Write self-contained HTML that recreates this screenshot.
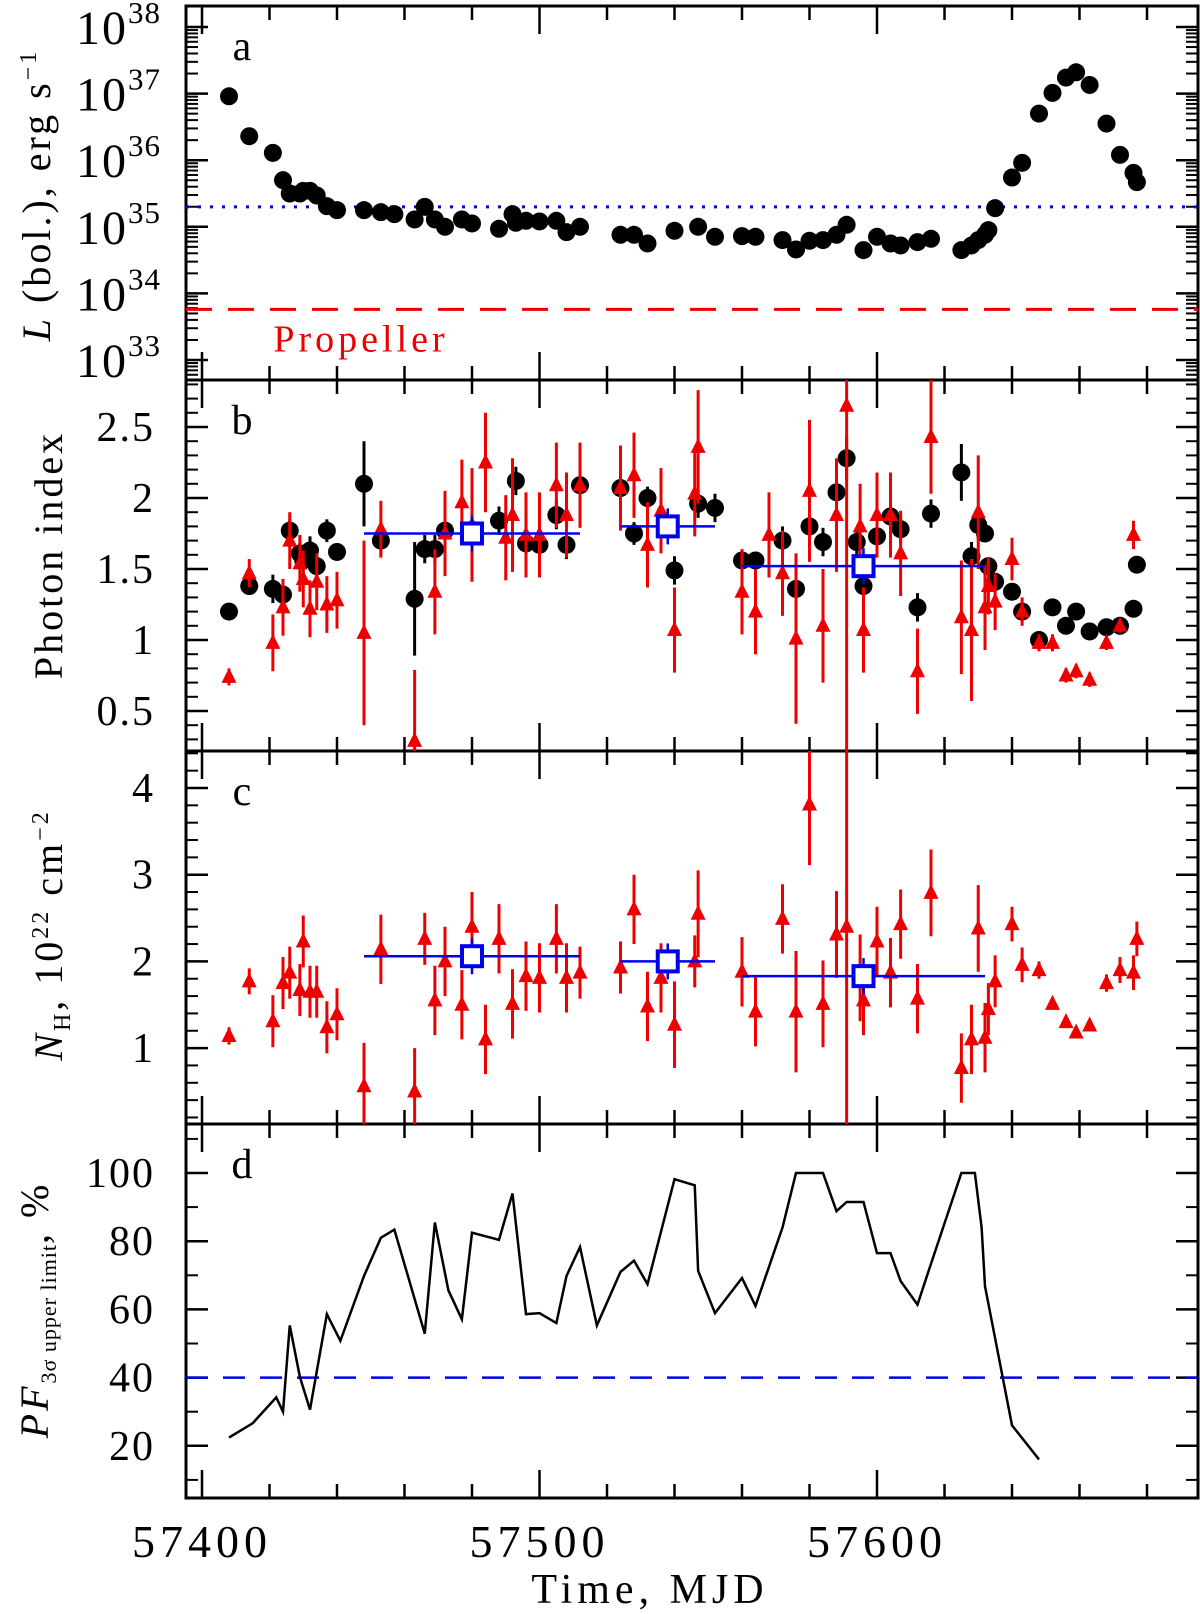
<!DOCTYPE html>
<html><head><meta charset="utf-8"><style>
html,body{margin:0;padding:0;background:#fff}
svg{display:block}
text{font-family:"Liberation Serif",serif;fill:#000}
</style></head><body>
<svg id="chart" width="1200" height="1614" viewBox="0 0 1200 1614" xmlns="http://www.w3.org/2000/svg"></svg>
<script>
// ---- data ----
const lumT=[57408,57414,57421,57424,57426,57429,57430,57432,57434,57437,57440,57448,57453,57457,57463,57466,57469,57472,57477,57480,57488,57492,57493,57496,57500,57505,57508,57512,57524,57528,57532,57540,57547,57552,57560,57564,57572,57576,57580,57584,57588,57591,57596,57600,57604,57607,57612,57616,57625,57628,57630,57632,57633,57635,57640,57643,57648,57652,57656,57659,57663,57668,57672,57676,57677];
const lumLog=[36.96,36.36,36.11,35.70,35.50,35.50,35.54,35.54,35.47,35.31,35.25,35.25,35.22,35.19,35.11,35.30,35.11,35.0,35.11,35.05,34.97,35.19,35.06,35.09,35.08,35.09,34.92,35.0,34.88,34.88,34.75,34.94,35.0,34.85,34.86,34.85,34.80,34.66,34.79,34.80,34.88,35.03,34.65,34.85,34.75,34.72,34.77,34.82,34.65,34.72,34.80,34.88,34.95,35.28,35.74,35.96,36.70,37.01,37.24,37.32,37.13,36.55,36.08,35.81,35.67];
const idxBT=[57408,57414,57421,57424,57426,57429,57430,57432,57434,57437,57440,57448,57453,57463,57466,57469,57472,57480,57488,57493,57496,57500,57505,57508,57512,57524,57528,57532,57540,57547,57552,57560,57564,57572,57576,57580,57584,57588,57591,57594,57596,57600,57604,57607,57612,57616,57625,57628,57630,57632,57633,57635,57640,57643,57648,57652,57656,57659,57663,57668,57672,57676,57677];
const idxBV=[1.20,1.38,1.36,1.32,1.77,1.61,1.56,1.63,1.52,1.77,1.62,2.10,1.70,1.29,1.64,1.64,1.77,1.73,1.84,2.12,1.68,1.67,1.88,1.67,2.09,2.07,1.75,2.0,1.49,1.96,1.93,1.56,1.56,1.70,1.36,1.80,1.69,2.04,2.28,1.69,1.38,1.73,1.87,1.78,1.23,1.89,2.18,1.59,1.81,1.75,1.52,1.41,1.34,1.20,1.00,1.23,1.10,1.20,1.06,1.09,1.10,1.22,1.53];
const idxBE=[0.05,0.05,0.1,0.1,0.08,0.08,0.1,0.1,0.08,0.08,0.06,0.3,0.1,0.4,0.1,0.1,0.1,0.1,0.1,0.1,0.1,0.1,0.1,0.1,0.08,0.08,0.08,0.08,0.1,0.1,0.1,0.06,0.06,0.1,0.1,0.1,0.1,0.1,0.15,0.1,0.1,0.1,0.1,0.1,0.1,0.1,0.2,0.1,0.1,0.06,0.06,0.06,0.05,0.05,0.05,0.05,0.05,0.05,0.05,0.05,0.05,0.05,0.05];
const idxRT=[57408,57414,57421,57424,57426,57429,57430,57432,57434,57437,57440,57448,57453,57463,57469,57472,57477,57480,57484,57490,57492,57496,57500,57505,57508,57512,57524,57528,57532,57536,57540,57546,57547,57560,57564,57568,57572,57576,57580,57584,57588,57591,57595,57596,57600,57604,57607,57612,57616,57625,57628,57630,57632,57633,57635,57640,57643,57648,57652,57656,57659,57663,57668,57672,57676];
const idxRV=[0.74,1.47,0.98,1.23,1.70,1.54,1.43,1.22,1.41,1.25,1.28,1.05,1.78,0.29,1.34,1.75,1.97,1.81,2.25,1.72,1.88,1.74,1.74,2.09,1.88,2.09,2.07,2.16,1.67,1.91,1.07,2.03,2.36,1.34,1.20,1.74,1.47,1.01,2.05,1.10,1.88,2.65,1.80,1.07,1.88,1.88,1.61,0.78,2.43,1.16,1.07,1.90,1.23,1.38,1.27,1.57,1.20,0.98,0.98,0.75,0.78,0.72,0.98,1.10,1.74];
const idxRE=[0.06,0.1,0.2,0.2,0.2,0.2,0.2,0.2,0.2,0.2,0.2,0.65,0.2,0.5,0.3,0.3,0.3,0.4,0.35,0.3,0.4,0.3,0.3,0.3,0.3,0.3,0.3,0.3,0.3,0.3,0.3,0.3,0.4,0.3,0.3,0.3,0.3,0.6,0.5,0.4,0.4,2.6,0.3,0.3,0.3,0.3,0.3,0.3,0.4,0.4,0.5,0.4,0.3,0.2,0.2,0.15,0.1,0.06,0.06,0.05,0.05,0.05,0.05,0.05,0.1];
const nhT=[57408,57414,57421,57424,57426,57429,57430,57432,57434,57437,57440,57448,57453,57463,57466,57469,57472,57477,57480,57484,57488,57492,57496,57500,57505,57508,57512,57524,57528,57532,57536,57540,57546,57547,57560,57564,57572,57576,57580,57584,57588,57591,57595,57596,57600,57604,57607,57612,57616,57625,57628,57630,57632,57633,57635,57640,57643,57648,57652,57656,57659,57663,57668,57672,57676,57677];
const nhV=[1.14,1.77,1.31,1.75,1.87,1.67,2.23,1.65,1.65,1.24,1.39,0.56,2.14,0.5,2.26,1.55,2.0,1.5,2.4,1.1,2.26,1.51,1.83,1.81,2.26,1.81,1.87,1.93,2.6,1.48,1.81,1.27,2.0,2.55,1.88,1.42,2.49,1.42,3.81,1.51,2.31,2.4,1.81,1.55,2.23,1.87,2.43,1.57,2.79,0.77,1.1,2.38,1.12,1.45,1.77,2.43,1.96,1.90,1.51,1.30,1.18,1.26,1.75,1.90,1.87,2.26];
const nhE=[0.1,0.15,0.3,0.3,0.3,0.3,0.3,0.3,0.3,0.3,0.3,0.5,0.4,0.5,0.3,0.4,0.4,0.4,0.4,0.4,0.4,0.4,0.4,0.4,0.4,0.4,0.3,0.3,0.4,0.4,0.4,0.5,0.3,0.5,0.4,0.4,0.4,0.7,0.7,0.5,0.5,2.5,0.5,0.4,0.4,0.4,0.4,0.4,0.5,0.4,0.4,0.5,0.4,0.3,0.3,0.2,0.2,0.1,0.06,0.05,0.05,0.05,0.1,0.15,0.2,0.2];
const avgT=[57480,57538,57596];
const avgLo=[57448,57524,57560];
const avgHi=[57512,57552,57632];
const avgIdx=[1.75,1.80,1.52];
const avgNh=[2.06,2.0,1.83];
const pfT=[57408,57415,57422,57424,57426,57429,57432,57437,57441,57448,57453,57457,57466,57469,57473,57477,57480,57488,57492,57496,57500,57505,57508,57512,57517,57524,57528,57532,57540,57546,57547,57552,57560,57564,57572,57576,57584,57588,57591,57596,57600,57604,57607,57612,57616,57625,57629,57631,57632,57640,57648];
const pfV=[22.4,26.6,34.2,30,55.3,40.2,30.6,58.6,50.8,69.8,81,83.4,52.9,85.5,65.6,57.1,82.5,80.4,94,58.6,58.9,56,69.8,78.3,55.3,71,74.3,67.4,98.2,96.4,71.3,58.9,69.2,61,84,100,100,88.8,91.5,91.5,76.5,76.5,68.3,61.4,73.4,100,100,84,66.8,26,16];
const xTicks=[57400,57500,57600];
// ---- layout ----
const L=186,R=1198;
const X=t=>202+(t-57400)*3.375;
const pA={top:6,bot:380,y:v=>27+(38-v)*66.6};
const pB={top:380,bot:751,y:v=>427+(2.5-v)*142};
const pC={top:751,bot:1124,y:v=>788+(4-v)*86.7};
const pD={top:1124,bot:1498,y:v=>1173+(100-v)*3.41};
const svg=document.getElementById('chart');
const NS='http://www.w3.org/2000/svg';
function mk(tag,at,parent){const e=document.createElementNS(NS,tag);for(const k in at)e.setAttribute(k,at[k]);(parent||svg).appendChild(e);return e;}
function txt(s,x,y,size,anchor,parent){const e=mk('text',{x:x,y:y,'font-size':size,'text-anchor':anchor||'middle'},parent);e.textContent=s;return e;}
function clipFor(p,id){const c=mk('clipPath',{id:id});mk('rect',{x:L,y:p.top,width:R-L,height:p.bot-p.top},c);}
clipFor(pA,'ca');clipFor(pB,'cb');clipFor(pC,'cc');clipFor(pD,'cd');
function group(name,clip){const g=mk('g',clip?{'clip-path':'url(#'+clip+')'}:{});return g;}
function frame(p,name,majors,minors,fmt){
  const g=group(name+'-axes');
  mk('rect',{x:L,y:p.top,width:R-L,height:p.bot-p.top,fill:'none',stroke:'#000','stroke-width':3},g);
  for(const v of majors){const y=p.y(v);if(y<p.top+2||y>p.bot-2)continue;
    mk('line',{x1:L,x2:L+22,y1:y,y2:y,stroke:'#000','stroke-width':2.5},g);
    mk('line',{x1:R-22,x2:R,y1:y,y2:y,stroke:'#000','stroke-width':2.5},g);
    if(fmt)fmt(v,y,g);}
  for(const v of minors){const y=p.y(v);if(y<p.top+2||y>p.bot-2)continue;
    mk('line',{x1:L,x2:L+12,y1:y,y2:y,stroke:'#000','stroke-width':2},g);
    mk('line',{x1:R-12,x2:R,y1:y,y2:y,stroke:'#000','stroke-width':2},g);}
  for(let t=57400;t<=57690;t+=20){const x=X(t);const big=(t%100===0);
    const h=big?28:14;
    mk('line',{x1:x,x2:x,y1:p.bot,y2:p.bot-h,stroke:'#000','stroke-width':2.5},g);
    mk('line',{x1:x,x2:x,y1:p.top,y2:p.top+h,stroke:'#000','stroke-width':2.5},g);}
  return g;
}
const aMin=[];for(let d=32;d<=38;d++)for(let k=2;k<=9;k++)aMin.push(d+Math.log10(k));
frame(pA,'panel-a',[33,34,35,36,37,38],aMin,(v,y,g)=>{
  const t=mk('text',{x:76,y:y+17,'font-size':48,'text-anchor':'start','letter-spacing':2},g);
  t.textContent='10';const s=mk('tspan',{dy:-21,'font-size':31,'letter-spacing':1},t);s.textContent=String(v);
});
const bMin=[];for(let v=0.2;v<2.9;v+=0.1)bMin.push(+v.toFixed(2));
frame(pB,'panel-b',[0.5,1,1.5,2,2.5],bMin,(v,y,g)=>txt(String(v),155,y+14,42,'end',g).setAttribute('letter-spacing',2));
const cMin=[];for(let v=0.2;v<4.5;v+=0.2)cMin.push(+v.toFixed(2));
frame(pC,'panel-c',[1,2,3,4],cMin,(v,y,g)=>txt(String(v),155,y+14,42,'end',g).setAttribute('letter-spacing',2));
const dMin=[];for(let v=10;v<=110;v+=10)dMin.push(v);
frame(pD,'panel-d',[20,40,60,80,100],dMin,(v,y,g)=>txt(String(v),155,y+14,42,'end',g).setAttribute('letter-spacing',2));
const xl=group('x-tick-labels');
for(const t of xTicks){const e=txt(String(t),X(t),1557,46,'middle',xl);e.setAttribute('letter-spacing',5);}
const xt=txt('Time, MJD',650,1603,42,'middle');xt.setAttribute('letter-spacing',5);
[['a',pA],['b',pB],['c',pC],['d',pD]].forEach(([s,p])=>{const e=txt(s,242,p.top+54,42,'middle');});
function ytitle(name,cx,cy,html){const g=mk('g',{transform:'translate('+cx+','+cy+') rotate(-90)'});const t=mk('text',{x:0,y:0,'font-size':40,'text-anchor':'middle','letter-spacing':3},g);t.innerHTML=html;}
ytitle('y-axis-title-luminosity',50,195,'<tspan font-style="italic">L</tspan> (bol.), erg s<tspan dy="-14" font-size="24">−1</tspan>');
ytitle('y-axis-title-photon-index',62,555,'Photon index');
ytitle('y-axis-title-nh',62,935,'<tspan font-style="italic">N</tspan><tspan dy="8" font-size="24">H</tspan><tspan dy="-8">,  10</tspan><tspan dy="-14" font-size="24">22</tspan><tspan dy="14"> cm</tspan><tspan dy="-14" font-size="24">−2</tspan>');
ytitle('y-axis-title-pulsed-fraction',48,1310,'<tspan font-style="italic">PF</tspan><tspan dy="8" font-size="22" letter-spacing="1">3σ upper limit</tspan><tspan dy="-8">, %</tspan>');
const ga=group('panel-a-data','ca');
mk('line',{x1:L,x2:R,y1:pA.y(35.3),y2:pA.y(35.3),stroke:'#0000ee','stroke-width':3,'stroke-dasharray':'3 9'},ga);
mk('line',{x1:L,x2:R,y1:pA.y(33.76),y2:pA.y(33.76),stroke:'#ee0000','stroke-width':3,'stroke-dasharray':'26 16'},ga);
const pt=txt('Propeller',361,pA.y(33.76)+42,38,'middle');pt.setAttribute('letter-spacing',4);pt.style.fill='#ee0000';
for(let i=0;i<lumT.length;i++){const c=mk('circle',{cx:X(lumT[i]),cy:pA.y(lumLog[i]),r:9,fill:'#000'},ga);

}
function errPts(g,T,V,E,p,color,shape,name){
  for(let i=0;i<T.length;i++){const x=X(T[i]),y=p.y(V[i]);
    mk('line',{x1:x,x2:x,y1:p.y(V[i]+E[i]),y2:p.y(V[i]-E[i]),stroke:color,'stroke-width':3},g);
    let m;
    if(shape==='c')m=mk('circle',{cx:x,cy:y,r:9,fill:color},g);
    else m=mk('polygon',{points:(x)+','+(y-9)+' '+(x-7.5)+','+(y+6)+' '+(x+7.5)+','+(y+6),fill:color},g);
    
    }
}
function avg(g,p,V){
  for(let i=0;i<avgT.length;i++){const y=p.y(V[i]);
    mk('line',{x1:X(avgLo[i]),x2:X(avgHi[i]),y1:y,y2:y,stroke:'#0000ee','stroke-width':2.5},g);
    mk('line',{x1:X(avgT[i]),x2:X(avgT[i]),y1:y-18,y2:y+18,stroke:'#0000ee','stroke-width':2.5},g);
    const r=mk('rect',{x:X(avgT[i])-10,y:y-10,width:20,height:20,fill:'#fff',stroke:'#0000ee','stroke-width':4},g);
    
    }
}
const gb=group('panel-b-data','cb');
errPts(gb,idxBT,idxBV,idxBE,pB,'#000','c','photon-index-black');
errPts(gb,idxRT,idxRV,idxRE,pB,'#ee0000','t','photon-index-red');
avg(gb,pB,avgIdx);
const gc=group('panel-c-data','cc');
errPts(gc,nhT,nhV,nhE,pC,'#ee0000','t','nh-point');
avg(gc,pC,avgNh);
const gd=group('panel-d-data','cd');
mk('line',{x1:L,x2:R,y1:pD.y(40),y2:pD.y(40),stroke:'#0000ee','stroke-width':2.5,'stroke-dasharray':'22 15'},gd);
const pl=mk('polyline',{points:pfT.map((t,i)=>X(t)+','+pD.y(pfV[i])).join(' '),fill:'none',stroke:'#000','stroke-width':2.5},gd);


</script>
</body></html>
